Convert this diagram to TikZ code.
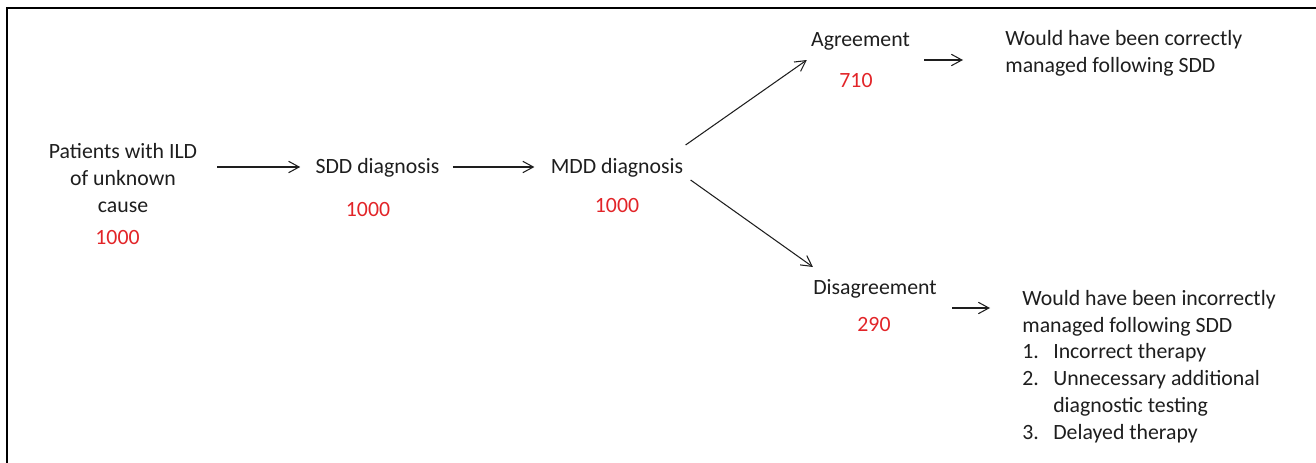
\documentclass[tikz,border=0pt]{standalone}
\usepackage{fontspec}
\setmainfont{Carlito}
\usetikzlibrary{calc,arrows.meta}
\definecolor{numred}{RGB}{226,36,40}
\definecolor{inkgray}{RGB}{30,30,30}
\newcommand{\listno}[1]{\makebox[17.6pt][l]{#1}}

\begin{document}
\begin{tikzpicture}[x=0.02cm,y=-0.02cm,
   every node/.style={inner sep=0pt, text=inkgray, font=\fontsize{12.4}{15.2}\selectfont},
   count/.style={text=numred, anchor=base},
   arr/.style={-{Straight Barb[length=6pt,width=6.5pt]}, line width=0.6pt, draw=inkgray}]
   \useasboundingbox (0,0) rectangle (1316,463);
   % frame, cut off at right and bottom
   \draw[line width=1.2pt] (7,490) |- (1340,8);

   % base of a node with several lines = base of its last line
   \node[align=center, anchor=base] (pat) at (123,212) {Patients with ILD\\of unknown\\cause};
   \node[count] (patn) at (117.5,244) {1000};

   \node[anchor=base] (sdd) at (377.5,173) {SDD diagnosis};
   \node[count] (sddn) at (368,216) {1000};

   \node[anchor=base] (mdd) at (617,173) {MDD diagnosis};
   \node[count] (mddn) at (617,212) {1000};

   \node[anchor=base] (agr) at (860.5,47) {Agreement};
   \node[count] (agrn) at (856,87) {710};

   \node[anchor=base] (dis) at (875,294) {Disagreement};
   \node[count] (disn) at (874,331) {290};

   \node[align=left, anchor=base west] (cor) at (1005,72)
      {Would have been correctly\\managed following SDD};
   \node[align=left, anchor=base west] (inc) at (1022,439)
      {Would have been incorrectly\\managed following SDD\\
       \listno{1.}Incorrect therapy\\
       \listno{2.}Unnecessary additional\\
       \hspace*{17.6pt}diagnostic testing\\
       \listno{3.}Delayed therapy};

   \draw[arr] ($(pat.east |- sdd.base)+(20,-6)$) -- ($(sdd.base west)+(-15,-6)$);
   \draw[arr] ($(sdd.base east)+(13,-6)$) -- ($(mdd.base west)+(-16,-6)$);
   \draw[arr] ($(mdd.base east)+(2,-28)$) -- ($(agr.base west)+(-4,13)$);
   \draw[arr] ($(mdd.base east)+(7,7)$) -- ($(dis.base west)+(0,-27)$);
   \draw[arr] ($(agr.base east)+(14,13)$) -- ($(cor.base west)+(-42,-12)$);
   \draw[arr] ($(dis.base east)+(15,14)$) -- ($(inc.base west)+(-32,-131)$);
\end{tikzpicture}
\end{document}
